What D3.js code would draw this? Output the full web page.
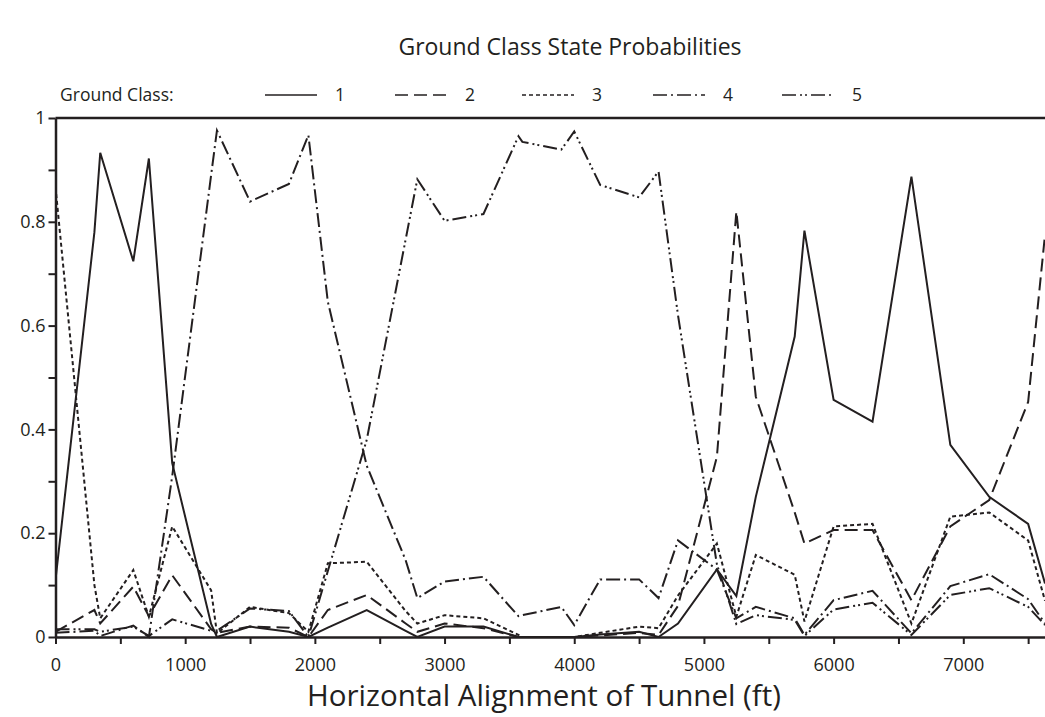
<!DOCTYPE html>
<html>
<head>
<meta charset="utf-8">
<script src="https://d3js.org/d3.v7.min.js"></script>
<style>
  body { margin: 0; background: #fff; }
  svg { display: block; font-family: "Open Sans", "Noto Sans", sans-serif; }
  .line { fill: none; stroke: #231f20; stroke-width: 2; }
  .axis { font-family: "Open Sans", "Noto Sans", sans-serif; }
  .axis path, .axis line { stroke: #231f20; }
  .axis text { fill: #231f20; font-size: 18px; }
</style>
</head>
<body>
<svg width="1045" height="717"></svg>
<script>
// station along the tunnel (ft)
var positions = [0, 300, 345, 600, 720, 900, 1200, 1245, 1500, 1800, 1950, 2100, 2400, 2700, 2790,
                 3000, 3300, 3570, 3600, 3900, 4000, 4200, 4500, 4650, 4800, 5100, 5250, 5400,
                 5700, 5775, 6000, 6300, 6600, 6900, 7200, 7500, 7630];

var class1 = [0.11, 0.78, 0.933, 0.724, 0.922, 0.335, 0.025, 0.0, 0.02, 0.01, 0.0, 0.018, 0.052, 0.012, 0.0,
              0.02, 0.02, 0.0, 0.0, 0.0, 0.0, 0.005, 0.01, 0.0, 0.026, 0.13, 0.079, 0.27,
              0.579, 0.783, 0.457, 0.415, 0.887, 0.37, 0.27, 0.218, 0.103];
var class2 = [0.01, 0.052, 0.026, 0.097, 0.04, 0.119, 0.015, 0.008, 0.02, 0.018, 0.0, 0.052, 0.081, 0.026, 0.01,
              0.026, 0.017, 0.0, 0.0, 0.0, 0.0, 0.003, 0.008, 0.004, 0.06, 0.347, 0.82, 0.463,
              0.24, 0.18, 0.206, 0.206, 0.071, 0.213, 0.264, 0.453, 0.775];
var class3 = [0.867, 0.1, 0.036, 0.129, 0.039, 0.213, 0.09, 0.007, 0.058, 0.046, 0.01, 0.142, 0.145, 0.05, 0.026,
              0.042, 0.036, 0.004, 0.0, 0.0, 0.0, 0.008, 0.02, 0.017, 0.08, 0.18, 0.039, 0.158,
              0.12, 0.03, 0.213, 0.218, 0.026, 0.232, 0.24, 0.186, 0.07];
var class4 = [0.008, 0.012, 0.002, 0.022, 0.0, 0.31, 0.89, 0.976, 0.839, 0.873, 0.967, 0.646, 0.33, 0.148, 0.075,
              0.107, 0.116, 0.04, 0.042, 0.058, 0.023, 0.111, 0.111, 0.075, 0.186, 0.13, 0.036, 0.058,
              0.036, 0.004, 0.071, 0.089, 0.007, 0.098, 0.121, 0.073, 0.026];
var class5 = [0.015, 0.015, 0.01, 0.02, 0.002, 0.034, 0.012, 0.012, 0.055, 0.05, 0.0, 0.127, 0.38, 0.766, 0.882,
              0.802, 0.815, 0.965, 0.954, 0.939, 0.974, 0.871, 0.847, 0.897, 0.62, 0.14, 0.025, 0.042,
              0.033, 0.002, 0.053, 0.066, 0.004, 0.081, 0.094, 0.058, 0.023];

var classNames = ["1", "2", "3", "4", "5"];
var xTicks = [0, 1000, 2000, 3000, 4000, 5000, 6000, 7000];
var yTicks = [0, 0.2, 0.4, 0.6, 0.8, 1];

var dashes = ["none", "13,6", "4,3", "14,4,2,4", "14,4,2,3,2,4"];

var svg = d3.select("svg"),
    plotLeft = 55.5, plotRight = 1045, plotTop = 118, plotBottom = 637;

var x = d3.scaleLinear().domain([0, 7630]).range([plotLeft, plotRight]);
var y = d3.scaleLinear().domain([0, 1]).range([plotBottom, plotTop]);

var series = [class1, class2, class3, class4, class5].map(function(vals, i) {
    return { name: classNames[i], dash: dashes[i],
             points: vals.map(function(v, j) { return [positions[j], v]; }) };
});

svg.append("defs").append("clipPath").attr("id", "plot")
   .append("rect").attr("x", plotLeft).attr("y", plotTop - 2)
   .attr("width", plotRight - plotLeft).attr("height", plotBottom - plotTop + 4);

// title
svg.append("text")
   .attr("x", 570).attr("y", 55)
   .attr("text-anchor", "middle")
   .style("font-size", "23px").style("fill", "#231f20")
   .text("Ground Class State Probabilities");

// axes
var xAxis = svg.append("g")
   .attr("class", "axis")
   .attr("transform", "translate(0," + plotBottom + ")")
   .call(d3.axisBottom(x).tickValues(d3.range(0, 7600, 500)).tickSize(7).tickSizeOuter(0)
           .tickFormat(function(d) { return xTicks.indexOf(d) >= 0 ? d : ""; }));
xAxis.select(".domain").style("stroke-width", 2.5);
xAxis.selectAll(".tick line").style("stroke-width", 2);
xAxis.selectAll(".tick text").attr("y", 21);

var yAxis = svg.append("g")
   .attr("class", "axis")
   .attr("transform", "translate(" + plotLeft + ",0)")
   .call(d3.axisLeft(y).tickValues(d3.range(0, 1.01, 0.1)).tickSize(7).tickSizeOuter(0)
           .tickFormat(function(d) {
               var r = Math.round(d * 10) / 10;
               return yTicks.indexOf(r) >= 0 ? d3.format("")(r) : "";
           }));
yAxis.select(".domain").style("stroke-width", 2.5);
yAxis.selectAll(".tick line").style("stroke-width", 2);
yAxis.selectAll(".tick text").attr("x", -10);

// top frame line
svg.append("line")
   .attr("x1", plotLeft).attr("x2", plotRight).attr("y1", plotTop).attr("y2", plotTop)
   .style("stroke", "#231f20").style("stroke-width", 2.5);

// x axis title
svg.append("text")
   .attr("x", 544).attr("y", 706)
   .attr("text-anchor", "middle")
   .style("font-size", "29.5px").style("fill", "#231f20")
   .text("Horizontal Alignment of Tunnel (ft)");

// data lines
var line = d3.line()
   .x(function(d) { return x(d[0]); })
   .y(function(d) { return y(d[1]); });

svg.append("g").attr("clip-path", "url(#plot)")
   .selectAll("path")
   .data(series)
   .enter().append("path")
   .attr("class", "line")
   .attr("d", function(d) { return line(d.points); })
   .style("stroke-dasharray", function(d) { return d.dash; });

// legend
var legend = svg.append("g").attr("transform", "translate(0,95)");
legend.append("text")
   .attr("x", 60).attr("y", 6)
   .style("font-size", "17.5px").style("fill", "#231f20")
   .text("Ground Class:");

var legendX = [265, 395, 522, 653, 782];
var item = legend.selectAll("g.item")
   .data(series)
   .enter().append("g")
   .attr("class", "item")
   .attr("transform", function(d, i) { return "translate(" + legendX[i] + ",0)"; });

item.append("line")
   .attr("class", "line")
   .attr("x1", 0).attr("x2", 52).attr("y1", 0).attr("y2", 0)
   .style("stroke-width", 1.6)
   .style("stroke-dasharray", function(d) { return d.dash; });

item.append("text")
   .attr("x", 70).attr("y", 6)
   .style("font-size", "17.5px").style("fill", "#231f20")
   .text(function(d) { return d.name; });
</script>
</body>
</html>
